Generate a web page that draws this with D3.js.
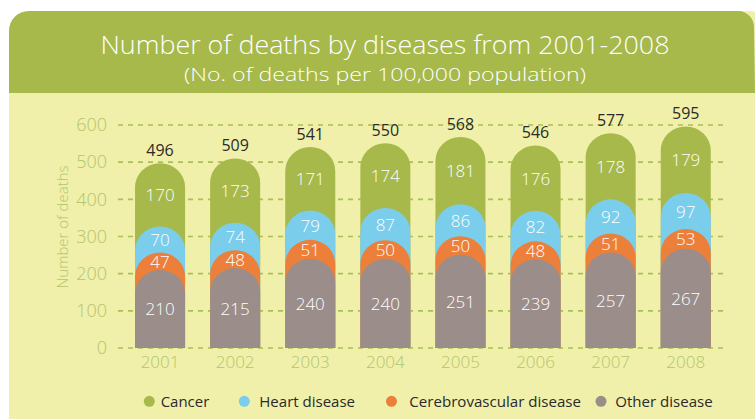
<!DOCTYPE html>
<html>
<head>
<meta charset="utf-8">
<script src="https://cdn.jsdelivr.net/npm/d3@7"></script>
<style>
  body { margin: 0; background: #fff; }
  svg { display: block; font-family: "Open Sans", sans-serif; font-weight: 300; }
</style>
</head>
<body>
<svg id="chart" width="755" height="419"></svg>
<script>
// values per 100,000 population
const years = ["2001", "2002", "2003", "2004", "2005", "2006", "2007", "2008"];
const other = [210, 215, 240, 240, 251, 239, 257, 267];
const cerebro = [47, 48, 51, 50, 50, 48, 51, 53];
const heart = [70, 74, 79, 87, 86, 82, 92, 97];
const cancer = [170, 173, 171, 174, 181, 176, 178, 179];
const totals = [496, 509, 541, 550, 568, 546, 577, 595];
const yTicks = [0, 100, 200, 300, 400, 500, 600];

const series = [
  { name: "Cancer", values: cancer, color: "#a6b94a" },
  { name: "Heart disease", values: heart, color: "#7bcdec" },
  { name: "Cerebrovascular disease", values: cerebro, color: "#ec803a" },
  { name: "Other disease", values: other, color: "#9a8d8a" }
];

const svg = d3.select("#chart");
const green = "#a6b94a";
const labelGreen = "#b3c56c";

// panel background
svg.append("rect")
  .attr("x", 9).attr("y", 11)
  .attr("width", 760).attr("height", 430)
  .attr("rx", 20)
  .attr("fill", "#f0f0aa");

// header
svg.append("path")
  .attr("fill", green)
  .attr("d", "M9,93 L9,31 A20,20 0 0 1 29,11 L738,11 A16,16 0 0 1 754,27 L755,93 Z");

svg.append("text")
  .attr("x", 385).attr("y", 54)
  .attr("text-anchor", "middle")
  .attr("fill", "#fff")
  .attr("font-size", 25)
  .attr("textLength", 569)
  .attr("lengthAdjust", "spacingAndGlyphs")
  .text("Number of deaths by diseases from 2001-2008");

svg.append("text")
  .attr("x", 385).attr("y", 81)
  .attr("text-anchor", "middle")
  .attr("fill", "#fff")
  .attr("font-size", 19)
  .attr("textLength", 402)
  .attr("lengthAdjust", "spacingAndGlyphs")
  .text("(No. of deaths per 100,000 population)");

// scales
const x = d3.scaleBand()
  .domain(years)
  .range([122.5, 723.3])
  .paddingInner(0.334)
  .paddingOuter(0.167);

const y = d3.scaleLinear()
  .domain([0, 600])
  .range([348, 125]);

// dashed grid
svg.append("g")
  .selectAll("line")
  .data(yTicks)
  .join("line")
  .attr("x1", 118).attr("x2", 728)
  .attr("y1", d => y(d)).attr("y2", d => y(d))
  .attr("stroke", "#a9bf58")
  .attr("stroke-width", 1.6)
  .attr("stroke-dasharray", "5,5");

// y axis
const yAxis = svg.append("g")
  .attr("transform", "translate(107,0)")
  .call(d3.axisLeft(y).tickValues(yTicks).tickSize(0).tickPadding(0));
yAxis.select(".domain").remove();
yAxis.selectAll("text")
  .attr("fill", labelGreen)
  .attr("font-size", 18)
  .attr("font-family", "Open Sans, sans-serif")
  .attr("font-weight", 300);

svg.append("text")
  .attr("transform", "translate(62,227) rotate(-90)")
  .attr("text-anchor", "middle")
  .attr("dominant-baseline", "central")
  .attr("fill", labelGreen)
  .attr("font-size", 15)
  .text("Number of deaths");

// x axis
const xAxis = svg.append("g")
  .attr("transform", "translate(0,356)")
  .call(d3.axisBottom(x).tickSize(0).tickPadding(0));
xAxis.select(".domain").remove();
xAxis.selectAll("text")
  .attr("fill", labelGreen)
  .attr("font-size", 17)
  .attr("font-family", "Open Sans, sans-serif")
  .attr("font-weight", 300);

// stacked bars with domed tops; each shape goes from 0 to its cumulative top
const bw = x.bandwidth();
const r = bw / 2;
const ry = 24;

function dome(x0, top, bottom) {
  return `M${x0},${bottom} L${x0},${top + ry} A${r},${ry} 0 0 1 ${x0 + bw},${top + ry} L${x0 + bw},${bottom} Z`;
}

const bars = svg.append("g");
years.forEach((yr, i) => {
  let cum = [];
  let s = 0;
  // cumulative from bottom: other, cerebro, heart, cancer
  for (let k = series.length - 1; k >= 0; k--) {
    const lo = s;
    s += series[k].values[i];
    cum[k] = [lo, s];
  }
  series.forEach((ser, k) => {
    bars.append("path")
      .attr("fill", ser.color)
      .attr("d", dome(x(yr), y(cum[k][1]), y(0)));
  });
  series.forEach((ser, k) => {
    bars.append("text")
      .attr("x", x(yr) + r)
      .attr("y", y((cum[k][0] + cum[k][1]) / 2))
      .attr("text-anchor", "middle")
      .attr("dominant-baseline", "central")
      .attr("fill", "#fff")
      .attr("font-size", 17)
      .text(ser.values[i]);
  });
  bars.append("text")
    .attr("x", x(yr) + r)
    .attr("y", y(cum[0][1]) - 13)
    .attr("text-anchor", "middle")
    .attr("dominant-baseline", "central")
    .attr("fill", "#2b2b2b")
    .attr("font-size", 16)
    .attr("font-weight", 400)
    .text(totals[i]);
});

// legend
const legendDot = [149.3, 244.3, 391.5, 601];
const legendText = [160.7, 259.3, 409.3, 615.3];
const legendW = [48.6, 95.7, 171.7, 97.4];
const legend = svg.append("g");
series.forEach((ser, k) => {
  legend.append("circle")
    .attr("cx", legendDot[k]).attr("cy", 401.3)
    .attr("r", 5.5)
    .attr("fill", ser.color);
  legend.append("text")
    .attr("x", legendText[k]).attr("y", 401)
    .attr("dominant-baseline", "central")
    .attr("fill", "#2a2a2a")
    .attr("font-size", 15)
    .attr("font-weight", 400)
    .attr("textLength", legendW[k])
    .attr("lengthAdjust", "spacingAndGlyphs")
    .text(ser.name);
});
</script>
</body>
</html>
